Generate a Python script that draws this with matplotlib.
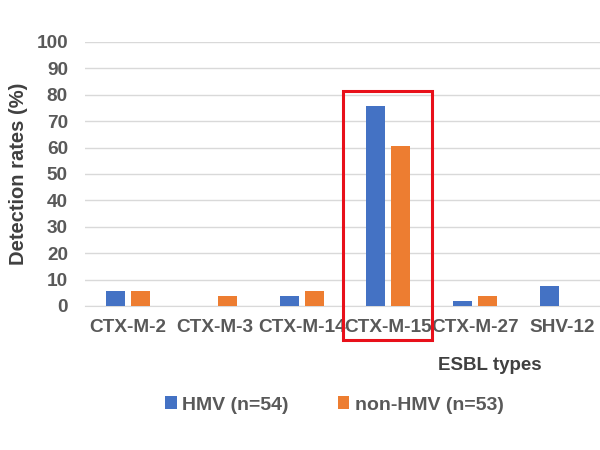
import matplotlib.pyplot as plt
import matplotlib.patches as patches
import numpy as np

plt.rcParams['font.family'] = ['Liberation Sans', 'DejaVu Sans']

types = ["CTX-M-2", "CTX-M-3", "CTX-M-14", "CTX-M-15", "CTX-M-27", "SHV-12"]
hmv = [5.6, 0, 3.7, 75.9, 1.9, 7.4]
non_hmv = [5.7, 3.8, 5.7, 60.4, 3.8, 0]
series_names = ["HMV (n=54)", "non-HMV (n=53)"]

fig = plt.figure(figsize=(6, 4.5), dpi=100)
ax = fig.add_axes([0.141, 0.32, 0.868, 0.587])

x = np.arange(len(types))
w = 0.22
ax.bar(x - 0.144, hmv, w, color="#4472C4", label=series_names[0], zorder=3)
ax.bar(x + 0.144, non_hmv, w, color="#ED7D31", label=series_names[1], zorder=3)

ax.set_xlim(-0.5, len(types) - 0.5)
ax.set_ylim(0, 100)
ax.set_yticks(range(0, 101, 10))
ax.yaxis.grid(True, color="#D9D9D9", linewidth=1, zorder=0)
for s in ["top", "right", "left"]:
    ax.spines[s].set_visible(False)
ax.spines["bottom"].set_color("#D9D9D9")
ax.tick_params(length=0)
ax.tick_params(axis="y", pad=12)
ax.tick_params(axis="x", pad=9)
ax.set_xticks(x)
ax.set_xticklabels(types)
for lab in ax.get_xticklabels() + ax.get_yticklabels():
    lab.set_fontsize(13.7)
    lab.set_fontweight("bold")
    lab.set_color("#595959")

ax.set_ylabel("Detection rates (%)", fontsize=14.5, fontweight="bold", color="#404040", labelpad=6)
fig.text(0.817, 0.188, "ESBL types", fontsize=13.5, fontweight="bold", color="#404040", ha="center", va="center")

# highlight box
rect = patches.Rectangle((2.48, -12.9), 1.02, 94.3, fill=False, edgecolor="#E8101A",
                         linewidth=2.2, clip_on=False, zorder=5)
ax.add_patch(rect)

fig.legend(loc="center left", bbox_to_anchor=(0.275, 0.1), ncol=2, frameon=False,
           prop={"size": 14, "weight": "bold"}, labelcolor="#595959",
           borderpad=0, borderaxespad=0,
           handlelength=0.6, handleheight=0.6, handletextpad=0.3, columnspacing=2.5)

fig.savefig("out.png", dpi=100)
